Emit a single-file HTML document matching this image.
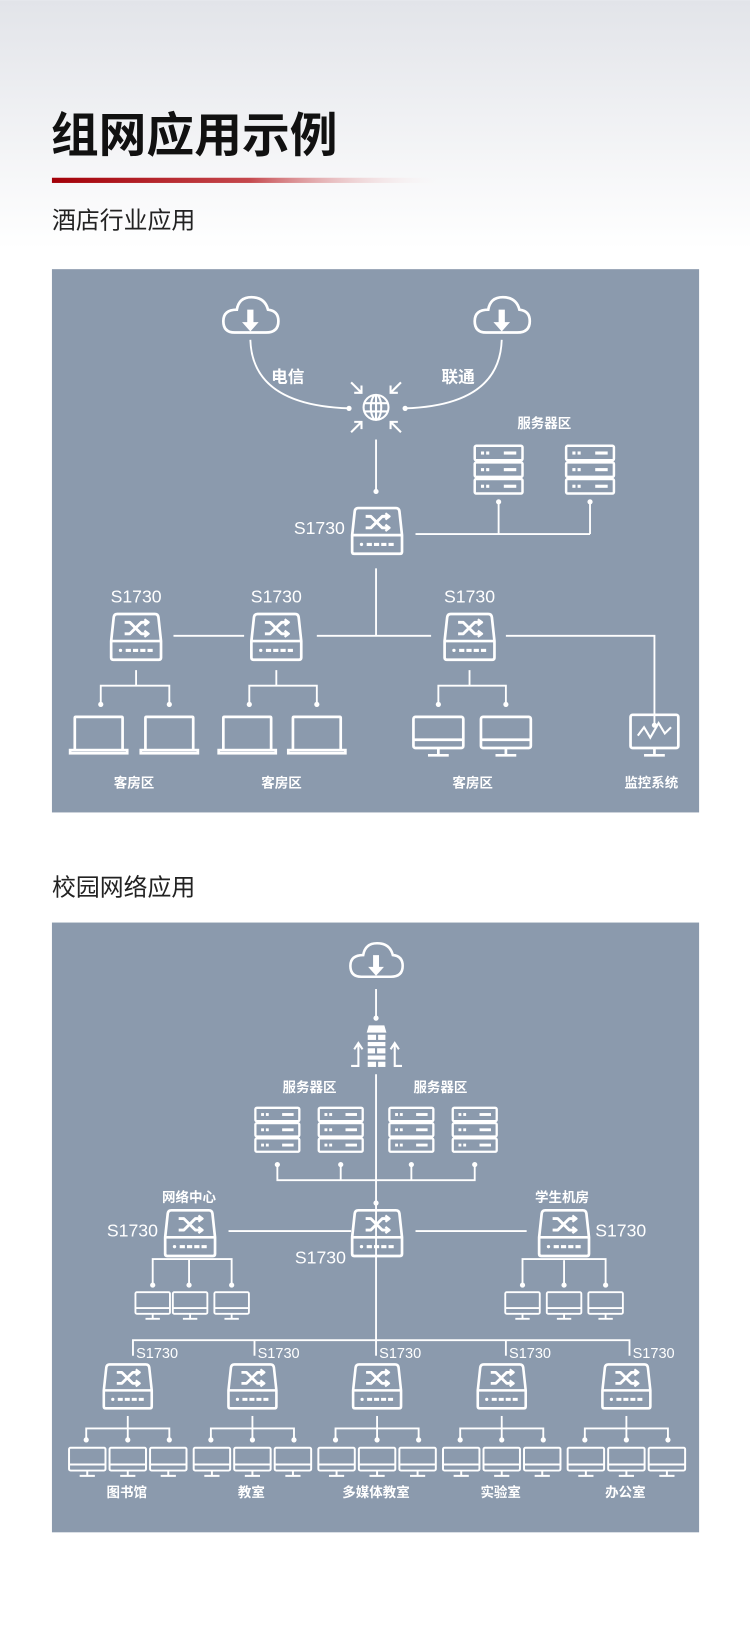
<!DOCTYPE html>
<html><head><meta charset="utf-8"><style>
html,body{margin:0;padding:0;background:#fff;}
svg{display:block;}
text{font-family:"Liberation Sans","Noto Sans CJK SC",sans-serif;fill:#fff;}
</style></head><body>
<svg width="750" height="1628" viewBox="0 0 722 1567" xmlns="http://www.w3.org/2000/svg">
<defs>
<linearGradient id="bg" x1="0" y1="0" x2="0" y2="1">
<stop offset="0" stop-color="#e2e4e9"/><stop offset="1" stop-color="#ffffff"/></linearGradient>
<linearGradient id="rb" x1="0" y1="0" x2="1" y2="0">
<stop offset="0" stop-color="#a30008"/><stop offset="0.5" stop-color="#c5484d"/><stop offset="1" stop-color="#ffffff" stop-opacity="0"/></linearGradient>
<symbol id="sw" viewBox="0 0 52 48">
<g fill="none" stroke="#fff" stroke-width="2.6" stroke-linejoin="round">
<path d="M8 2H44Q47 2 47.5 5L50 28V44Q50 46 48 46H4Q2 46 2 44V28L4.5 5Q5 2 8 2Z"/>
<line x1="2" y1="28" x2="50" y2="28"/>
<path d="M15 10H20L31 21H37M15 21H20L31 10H37" stroke-width="2.8"/>
<path d="M34 7L38 10L34 13M34 18L38 21L34 24" stroke-width="2.2"/>
</g>
<g fill="#fff"><circle cx="11" cy="37" r="1.6"/><rect x="16" y="35.5" width="5" height="3"/><rect x="23" y="35.5" width="5" height="3"/><rect x="30" y="35.5" width="5" height="3"/><rect x="37" y="35.5" width="5" height="3"/></g>
</symbol>
<symbol id="srv" viewBox="0 0 50 50">
<g fill="none" stroke="#fff" stroke-width="2.4"><rect x="2" y="2" width="46" height="14" rx="1.5"/><rect x="2" y="18" width="46" height="14" rx="1.5"/><rect x="2" y="34" width="46" height="14" rx="1.5"/></g>
<g fill="#fff"><rect x="8" y="7.5" width="3" height="3"/><rect x="13" y="7.5" width="3" height="3"/><rect x="30" y="7.5" width="12" height="3"/>
<rect x="8" y="23.5" width="3" height="3"/><rect x="13" y="23.5" width="3" height="3"/><rect x="30" y="23.5" width="12" height="3"/>
<rect x="8" y="39.5" width="3" height="3"/><rect x="13" y="39.5" width="3" height="3"/><rect x="30" y="39.5" width="12" height="3"/></g>
</symbol>
<symbol id="mon" viewBox="0 0 52 42">
<g fill="none" stroke="#fff" stroke-width="2.6"><rect x="2" y="2" width="48" height="30" rx="2"/><line x1="2" y1="24" x2="50" y2="24"/><line x1="26" y1="32" x2="26" y2="38"/><line x1="16" y1="39" x2="36" y2="39"/></g>
</symbol>
<symbol id="lap" viewBox="0 0 58 40">
<g fill="none" stroke="#fff" stroke-width="2.6"><path d="M6 34V3Q6 2 7 2H51Q52 2 52 3V34"/><rect x="1.5" y="34" width="55" height="3"/></g>
</symbol>
<symbol id="cld" viewBox="0 0 58 40">
<path d="M14 36H44Q56 36 56 25Q56 15 46 14Q43 2 30 2Q18 2 16 14Q3 14 3 25Q3 36 14 36Z" fill="none" stroke="#fff" stroke-width="2.6"/>
<path d="M26 14H32V26H37L29 35L21 26H26Z" fill="#fff"/>
</symbol>
<g id="grp">
<use href="#sw" x="-24" y="0" width="50" height="47"/>
<g fill="none" stroke="#fff" stroke-width="1.8"><line x1="1" y1="52" x2="1" y2="64"/><polyline points="-39,74 -39,64 41,64 41,74"/><line x1="1" y1="64" x2="1" y2="74"/></g>
<g fill="#fff"><circle cx="-39" cy="75" r="2.5"/><circle cx="1" cy="75" r="2.5"/><circle cx="41" cy="75" r="2.5"/></g>
</g>
<g id="mons"><use href="#mon" x="-57" y="0" width="38" height="31"/><use href="#mon" x="-18" y="0" width="38" height="31"/><use href="#mon" x="21" y="0" width="38" height="31"/></g>
</defs>
<rect x="0" y="0" width="722" height="240" fill="url(#bg)"/>
<text x="49" y="146" style="font-size:46px;font-weight:bold;fill:#111">组网应用示例</text>
<rect x="50" y="171" width="380" height="5" fill="url(#rb)"/>
<text x="50" y="220" style="font-size:23px;fill:#222">酒店行业应用</text>
<text x="50" y="862" style="font-size:23px;fill:#222">校园网络应用</text>

<!-- Panel 1 -->
<rect x="50" y="259" width="623" height="523" fill="#8b9aad"/>
<g fill="none" stroke="#fff" stroke-width="1.8">
<path d="M241 327Q243 390 336 393"/><path d="M483 327Q481 390 390 393"/>
<line x1="362" y1="423" x2="362" y2="473"/>
<line x1="480" y1="483" x2="480" y2="514"/><line x1="568" y1="483" x2="568" y2="514"/><line x1="400" y1="514" x2="568" y2="514"/>
<line x1="362" y1="547" x2="362" y2="612"/><line x1="305" y1="612" x2="415" y2="612"/><line x1="167" y1="612" x2="235" y2="612"/>
<polyline points="487,612 630,612 630,698"/>
<line x1="131" y1="645" x2="131" y2="660"/><polyline points="97,676 97,660 163,660 163,676"/>
<line x1="266" y1="645" x2="266" y2="660"/><polyline points="240,676 240,660 305,660 305,676"/>
<line x1="452" y1="645" x2="452" y2="660"/><polyline points="422,676 422,660 487,660 487,676"/>
</g>
<g fill="#fff"><circle cx="336" cy="393" r="2.5"/><circle cx="390" cy="393" r="2.5"/><circle cx="362" cy="473" r="2.5"/><circle cx="480" cy="483" r="2.5"/><circle cx="568" cy="483" r="2.5"/><circle cx="630" cy="698" r="2.5"/>
<circle cx="97" cy="678" r="2.5"/><circle cx="163" cy="678" r="2.5"/><circle cx="240" cy="678" r="2.5"/><circle cx="305" cy="678" r="2.5"/><circle cx="422" cy="678" r="2.5"/><circle cx="487" cy="678" r="2.5"/></g>
<use href="#cld" x="212" y="284" width="58" height="40"/><use href="#cld" x="454" y="284" width="58" height="40"/>
<g fill="none" stroke="#fff" stroke-width="2">
<circle cx="362" cy="392" r="12"/><ellipse cx="362" cy="392" rx="5" ry="12"/><line x1="350" y1="388" x2="374" y2="388"/><line x1="350" y1="396" x2="374" y2="396"/><line x1="362" y1="380" x2="362" y2="404"/>
<path d="M338 368L348 378M348 371V378H341"/><path d="M386 368L376 378M376 371V378H383"/>
<path d="M338 416L348 406M341 406H348V413"/><path d="M386 416L376 406M383 406H376V413"/>
</g>
<text x="277" y="368" text-anchor="middle" style="font-size:16px;font-weight:bold">电信</text>
<text x="441" y="368" text-anchor="middle" style="font-size:16px;font-weight:bold">联通</text>
<text x="524" y="412" text-anchor="middle" style="font-size:13px;font-weight:bold">服务器区</text>
<use href="#srv" x="455" y="427" width="50" height="50"/><use href="#srv" x="543" y="427" width="50" height="50"/>
<use href="#sw" x="337" y="487" width="52" height="48"/>
<text x="332" y="514" text-anchor="end" style="font-size:17px">S1730</text>
<use href="#sw" x="105" y="589" width="52" height="48"/><use href="#sw" x="240" y="589" width="52" height="48"/><use href="#sw" x="426" y="589" width="52" height="48"/>
<text x="131" y="580" text-anchor="middle" style="font-size:17px">S1730</text>
<text x="266" y="580" text-anchor="middle" style="font-size:17px">S1730</text>
<text x="452" y="580" text-anchor="middle" style="font-size:17px">S1730</text>
<use href="#lap" x="66" y="688" width="58" height="40"/><use href="#lap" x="134" y="688" width="58" height="40"/>
<use href="#lap" x="209" y="688" width="58" height="40"/><use href="#lap" x="276" y="688" width="58" height="40"/>
<use href="#mon" x="396" y="688" width="52" height="42"/><use href="#mon" x="461" y="688" width="52" height="42"/>
<g fill="none" stroke="#fff" stroke-width="2.6"><rect x="607" y="688" width="46" height="32" rx="2"/><line x1="630" y1="720" x2="630" y2="726"/><line x1="620" y1="727" x2="640" y2="727"/><polyline points="614,708 620,700 626,710 634,696 640,706 646,700" stroke-width="2"/></g>
<g style="font-size:13px;font-weight:bold" text-anchor="middle"><text x="129" y="758">客房区</text><text x="271" y="758">客房区</text><text x="455" y="758">客房区</text><text x="627" y="758">监控系统</text></g>

<!-- Panel 2 -->
<rect x="50" y="888" width="623" height="587" fill="#8b9aad"/>
<use href="#cld" x="334" y="906" width="56" height="38"/>
<g fill="none" stroke="#fff" stroke-width="1.8">
<line x1="362" y1="952" x2="362" y2="978"/>
<line x1="362" y1="1034" x2="362" y2="1290"/>
<polyline points="267,1121 267,1136 457,1136 457,1121"/><line x1="328" y1="1121" x2="328" y2="1136"/><line x1="396" y1="1121" x2="396" y2="1136"/>
<line x1="220" y1="1185" x2="338" y2="1185"/><line x1="400" y1="1185" x2="507" y2="1185"/>
<polyline points="147,1236 147,1212 223,1212 223,1236"/><line x1="182" y1="1212" x2="182" y2="1236"/>
<line x1="543" y1="1213" x2="543" y2="1236"/><polyline points="503,1236 503,1212 583,1212 583,1236"/>
<polyline points="128,1305 128,1290 606,1290 606,1305"/><line x1="245" y1="1290" x2="245" y2="1305"/><line x1="487" y1="1290" x2="487" y2="1305"/><line x1="362" y1="1290" x2="362" y2="1305"/>
</g>
<g fill="#fff"><circle cx="362" cy="980" r="2.5"/><circle cx="362" cy="1158" r="2.5"/>
<circle cx="267" cy="1121" r="2.5"/><circle cx="328" cy="1121" r="2.5"/><circle cx="396" cy="1121" r="2.5"/><circle cx="457" cy="1121" r="2.5"/>
<circle cx="147" cy="1237" r="2.5"/><circle cx="182" cy="1237" r="2.5"/><circle cx="223" cy="1237" r="2.5"/>
<circle cx="503" cy="1237" r="2.5"/><circle cx="543" cy="1237" r="2.5"/><circle cx="583" cy="1237" r="2.5"/></g>
<g fill="#fff"><path d="M355 987H370L372 994H353Z"/><rect x="354" y="996" width="8" height="5"/><rect x="364" y="996" width="7" height="5"/><rect x="354" y="1003" width="17" height="4"/><rect x="354" y="1009" width="7" height="5"/><rect x="363" y="1009" width="8" height="5"/><rect x="354" y="1016" width="17" height="4"/><rect x="354" y="1022" width="8" height="5"/><rect x="364" y="1022" width="7" height="5"/></g>
<g fill="none" stroke="#fff" stroke-width="2"><path d="M338 1026H345V1006M341 1010L345 1004L349 1010"/><path d="M387 1026H380V1006M376 1010L380 1004L384 1010"/></g>
<text x="298" y="1051" text-anchor="middle" style="font-size:13px;font-weight:bold">服务器区</text>
<text x="424" y="1051" text-anchor="middle" style="font-size:13px;font-weight:bold">服务器区</text>
<use href="#srv" x="244" y="1064" width="46" height="47"/><use href="#srv" x="305" y="1064" width="46" height="47"/><use href="#srv" x="373" y="1064" width="46" height="47"/><use href="#srv" x="434" y="1064" width="46" height="47"/>
<use href="#sw" x="157" y="1163" width="52" height="48"/><use href="#sw" x="337" y="1163" width="52" height="48"/><use href="#sw" x="517" y="1163" width="52" height="48"/>
<text x="182" y="1157" text-anchor="middle" style="font-size:13px;font-weight:bold">网络中心</text>
<text x="541" y="1157" text-anchor="middle" style="font-size:13px;font-weight:bold">学生机房</text>
<text x="152" y="1190" text-anchor="end" style="font-size:17px">S1730</text>
<text x="333" y="1216" text-anchor="end" style="font-size:17px">S1730</text>
<text x="573" y="1190" style="font-size:17px">S1730</text>
<use href="#mon" x="129" y="1242" width="36" height="30"/><use href="#mon" x="165" y="1242" width="36" height="30"/><use href="#mon" x="205" y="1242" width="36" height="30"/>
<use href="#mon" x="485" y="1242" width="36" height="30"/><use href="#mon" x="525" y="1242" width="36" height="30"/><use href="#mon" x="565" y="1242" width="36" height="30"/>
<g style="font-size:14px"><text x="131" y="1307">S1730</text><text x="248" y="1307">S1730</text><text x="365" y="1307">S1730</text><text x="490" y="1307">S1730</text><text x="609" y="1307">S1730</text></g>
<use href="#grp" x="122" y="1311"/><use href="#grp" x="242" y="1311"/><use href="#grp" x="362" y="1311"/><use href="#grp" x="482" y="1311"/><use href="#grp" x="602" y="1311"/>
<use href="#mons" x="122" y="1392"/><use href="#mons" x="242" y="1392"/><use href="#mons" x="362" y="1392"/><use href="#mons" x="482" y="1392"/><use href="#mons" x="602" y="1392"/>
<g style="font-size:13px;font-weight:bold" text-anchor="middle"><text x="122" y="1441">图书馆</text><text x="242" y="1441">教室</text><text x="362" y="1441">多媒体教室</text><text x="482" y="1441">实验室</text><text x="602" y="1441">办公室</text></g>
</svg>
</body></html>
